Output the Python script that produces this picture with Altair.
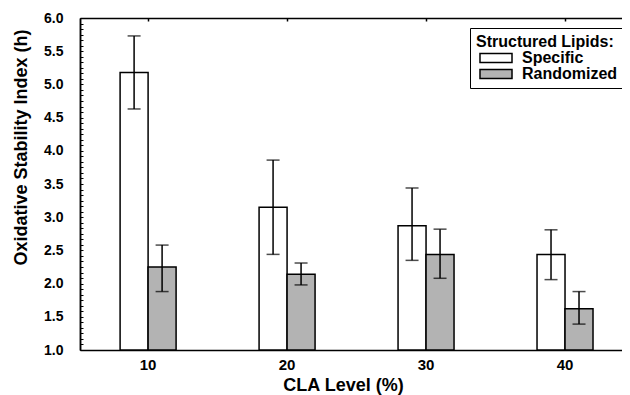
import altair as alt
import pandas as pd

levels = ["10", "20", "30", "40"]
types = ["Specific", "Randomized"]
specific = [5.18, 3.15, 2.87, 2.44]
specific_lo = [4.63, 2.44, 2.35, 2.06]
specific_hi = [5.73, 3.86, 3.44, 2.81]
randomized = [2.25, 2.14, 2.44, 1.62]
randomized_lo = [1.88, 1.98, 2.08, 1.39]
randomized_hi = [2.58, 2.31, 2.82, 1.88]

y_labels = [1.0, 1.5, 2.0, 2.5, 3.0, 3.5, 4.0, 4.5, 5.0, 5.5, 6.0]
minor_ticks = [1 + k / 12 for k in range(61)]

rows = []
for i, lv in enumerate(levels):
    rows.append({"level": lv, "type": "Specific", "value": specific[i],
                 "lo": specific_lo[i], "hi": specific_hi[i]})
    rows.append({"level": lv, "type": "Randomized", "value": randomized[i],
                 "lo": randomized_lo[i], "hi": randomized_hi[i]})
df = pd.DataFrame(rows)

FONT = "Liberation Sans"
W, H = 542, 332

xscale = alt.Scale(domain=levels, paddingInner=0.5, paddingOuter=0.2, align=0.6)
yscale = alt.Scale(domain=[1, 6], zero=False, nice=False)
offscale = alt.Scale(domain=types, paddingInner=0, paddingOuter=0.241)

base = alt.Chart(df)

bars = base.mark_bar(stroke="black", strokeWidth=1.5).encode(
    x=alt.X("level:N", scale=xscale, sort=levels,
            axis=alt.Axis(orient="bottom", title="CLA Level (%)", labelAngle=0,
                          ticks=False, tickSize=0, labelPadding=7,
                          labelFont=FONT, labelFontSize=15, labelFontWeight="bold",
                          labelColor="black", titleFont=FONT, titleFontSize=18,
                          titleFontWeight="bold", titleColor="black",
                          titleX=263, titleY=40, titleBaseline="alphabetic",
                          domainColor="black", domainWidth=1.5)),
    xOffset=alt.XOffset("type:N", scale=offscale, sort=types),
    y=alt.Y("value:Q", scale=yscale,
            axis=alt.Axis(orient="left", title="Oxidative Stability Index (h)",
                          values=y_labels, format=".1f", ticks=False, tickSize=0,
                          labelPadding=17, grid=False,
                          labelFont=FONT, labelFontSize=14, labelFontWeight="bold",
                          labelColor="black", titleFont=FONT, titleFontSize=18,
                          titleFontWeight="bold", titleColor="black",
                          titleX=-59, titleY=129, titleAngle=270,
                          titleBaseline="middle",
                          domainColor="black", domainWidth=1.5)),
    y2=alt.datum(1),
    fill=alt.Fill("type:N", scale=alt.Scale(domain=types, range=["white", "#b3b3b3"]),
                  legend=alt.Legend(title="Structured Lipids:", orient="none",
                                    legendX=390, legendY=10,
                                    strokeColor="black", fillColor="white",
                                    padding=6, titleFont=FONT, titleFontSize=16,
                                    titleFontWeight="bold", titleColor="black",
                                    titlePadding=0, labelFont=FONT, labelFontSize=16,
                                    labelFontWeight="bold", labelColor="black",
                                    symbolType="M-2.5,-0.7H2.5V0.7H-2.5Z", symbolSize=164,
                                    symbolStrokeColor="black", symbolStrokeWidth=1.5,
                                    symbolOpacity=1, symbolOffset=12,
                                    labelOffset=18, rowPadding=0)),
)

rules = base.mark_rule(color="black", strokeWidth=1.5).encode(
    x=alt.X("level:N", scale=xscale, sort=levels,
            axis=alt.Axis(orient="bottom", offset=-H, labels=False, title=None,
                          ticks=True, tickSize=3, tickColor="black", tickWidth=1.5,
                          domainColor="black", domainWidth=1.5)),
    xOffset=alt.XOffset("type:N", scale=offscale, sort=types),
    y=alt.Y("lo:Q", scale=yscale,
            axis=alt.Axis(orient="right", offset=-W, labels=False, title=None,
                          values=minor_ticks, ticks=True, tickSize=3,
                          tickColor="black", tickWidth=1, grid=False,
                          domainColor="black", domainWidth=1.5)),
    y2="hi:Q",
)

caps = base.transform_fold(["lo", "hi"], as_=["end", "yv"]).mark_tick(
    color="black", thickness=1.5, size=13
).encode(
    x=alt.X("level:N", scale=xscale, sort=levels, axis=None),
    xOffset=alt.XOffset("type:N", scale=offscale, sort=types),
    y=alt.Y("yv:Q", scale=yscale, axis=None),
)

chart = alt.layer(bars, rules, caps).resolve_axis(x="independent").properties(
    width=W, height=H,
    padding={"left": 72, "top": 10, "right": 0, "bottom": 45},
    autosize=alt.AutoSizeParams(type="none"),
).configure_view(stroke="transparent").configure(background="white")

chart.save("out.html", embed_options={"renderer": "svg", "actions": False})
